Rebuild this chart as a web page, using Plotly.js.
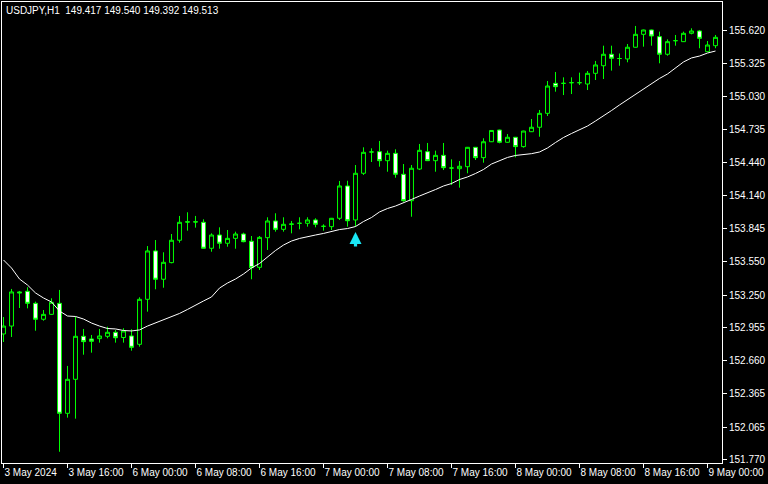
<!DOCTYPE html>
<html><head><meta charset="utf-8">
<script src="https://cdn.plot.ly/plotly-3.0.1.min.js"></script>
<style>html,body{margin:0;padding:0;background:#000;}#chart{width:768px;height:484px;}</style>
</head><body><div id="chart"></div>
<script>
const chartTitle = "USDJPY,H1\u00a0\u00a0149.417 149.540 149.392 149.513";

const openP = [152.901,152.972,153.278,153.284,153.176,153.033,153.077,153.176,152.189,152.494,
152.880,152.856,152.859,152.880,152.916,152.869,152.883,152.808,153.212,153.646,
153.392,153.541,153.742,153.908,153.908,153.903,153.670,153.789,153.715,153.759,
153.798,153.733,153.499,153.765,153.915,153.840,153.888,153.894,153.894,153.924,
153.867,153.864,153.939,154.229,153.924,154.343,154.534,154.537,154.456,154.522,
154.334,154.097,154.381,154.537,154.456,154.504,154.390,154.384,154.402,154.576,
154.483,154.626,154.731,154.621,154.666,154.582,154.716,154.756,154.881,155.150,
155.150,155.156,155.156,155.144,155.240,155.308,155.411,155.373,155.369,155.474,
155.590,155.629,155.569,155.411,155.533,155.524,155.599,155.620,155.434,155.488];

const highP = [153.053,153.305,153.287,153.320,153.191,153.116,153.221,153.296,152.614,153.056,
152.946,152.892,152.946,152.966,152.937,152.952,152.943,153.230,153.690,153.744,
153.634,153.798,153.960,153.993,153.960,153.930,153.804,153.858,153.834,153.819,
153.810,153.780,153.780,153.948,153.984,153.948,153.915,153.948,153.948,153.939,
153.885,153.942,154.274,154.276,154.417,154.576,154.567,154.633,154.546,154.558,
154.426,154.417,154.606,154.615,154.546,154.615,154.468,154.453,154.579,154.579,
154.657,154.729,154.734,154.695,154.669,154.725,154.830,154.911,155.171,155.252,
155.204,155.204,155.246,155.261,155.351,155.488,155.488,155.418,155.503,155.665,
155.632,155.632,155.614,155.545,155.584,155.614,155.644,155.629,155.530,155.584];

const lowP = [152.829,152.874,153.134,153.131,152.930,153.020,153.071,151.844,152.150,152.141,
152.715,152.733,152.823,152.862,152.823,152.823,152.751,152.787,153.101,153.302,
153.316,153.535,153.720,153.828,153.855,153.668,153.639,153.666,153.684,153.666,
153.724,153.392,153.475,153.655,153.819,153.819,153.804,153.840,153.864,153.858,
153.828,153.834,153.924,153.864,153.864,154.328,154.444,154.402,154.357,154.303,
154.088,153.953,154.372,154.453,154.357,154.372,154.238,154.214,154.343,154.462,
154.438,154.623,154.612,154.618,154.486,154.573,154.713,154.671,154.857,155.075,
155.045,155.054,155.135,155.090,155.180,155.189,155.264,155.308,155.339,155.471,
155.479,155.488,155.330,155.398,155.488,155.521,155.590,155.465,155.431,155.465];

const closeP = [152.972,153.278,153.270,153.176,153.033,153.077,153.185,152.189,152.494,152.880,
152.832,152.835,152.883,152.916,152.867,152.928,152.781,153.212,153.646,153.392,
153.544,153.742,153.903,153.905,153.906,153.670,153.789,153.715,153.759,153.798,
153.729,153.496,153.768,153.915,153.840,153.885,153.886,153.894,153.924,153.885,
153.867,153.939,154.229,153.917,154.343,154.531,154.534,154.456,154.522,154.334,
154.097,154.388,154.549,154.456,154.504,154.393,154.390,154.406,154.576,154.483,
154.626,154.727,154.621,154.666,154.582,154.722,154.756,154.881,155.126,155.120,
155.150,155.156,155.156,155.240,155.315,155.411,155.375,155.373,155.474,155.590,
155.629,155.575,155.411,155.524,155.533,155.599,155.620,155.554,155.494,155.563];

const maValues = [153.565,153.493,153.394,153.340,153.269,153.224,153.188,153.107,153.062,153.058,
153.035,152.999,152.972,152.950,152.946,152.932,152.928,152.937,152.972,152.999,
153.026,153.053,153.085,153.121,153.161,153.197,153.233,153.313,153.358,153.394,
153.439,153.493,153.533,153.592,153.650,153.699,153.735,153.758,153.776,153.789,
153.803,153.822,153.838,153.847,153.865,153.910,153.946,153.996,154.027,154.049,
154.076,154.108,154.139,154.166,154.197,154.229,154.251,154.287,154.310,154.341,
154.377,154.426,154.453,154.485,154.503,154.510,154.519,154.534,154.570,154.619,
154.664,154.700,154.736,154.767,154.812,154.857,154.906,154.956,155.005,155.054,
155.099,155.149,155.194,155.234,155.288,155.342,155.378,155.395,155.422,155.440];

const tickIndex = [0,8,16,24,32,40,48,56,64,72,80,88];
const tickLabels = ["3 May 2024","3 May 16:00","6 May 00:00","6 May 08:00","6 May 16:00","7 May 00:00",
  "7 May 08:00","7 May 16:00","8 May 00:00","8 May 08:00","8 May 16:00","9 May 00:00"];
const priceTicks = [155.620,155.325,155.030,154.735,154.440,154.140,153.845,153.550,153.250,152.955,152.660,152.365,152.065,151.770];

const signalBar = [44];
const signalPrice = [153.816];

const barIndex = openP.map((_, i) => i);
const FONT = "Liberation Sans, Arial, sans-serif";
const GREEN = "#00ff00";

const traces = [
  {
    type: "candlestick", x: barIndex, open: openP, high: highP, low: lowP, close: closeP,
    increasing: {line: {color: GREEN, width: 1}, fillcolor: "#000000"},
    decreasing: {line: {color: GREEN, width: 1}, fillcolor: "#ffffff"},
    whiskerwidth: 0, hoverinfo: "skip", showlegend: false
  },
  {
    type: "scatter", mode: "lines", x: barIndex, y: maValues,
    line: {color: "#ffffff", width: 1}, hoverinfo: "skip", showlegend: false
  }
];

const annotations = [
  {xref: "paper", yref: "paper", x: 0, y: 1, xanchor: "left", yanchor: "top", xshift: 2, yshift: -1,
   text: chartTitle, showarrow: false, font: {family: FONT, size: 10, color: "#ffffff"}}
];
signalBar.forEach((b, k) => annotations.push({
  x: b, y: signalPrice[k], xref: "x", yref: "y", text: "", showarrow: true,
  ax: 0, ay: 16, arrowhead: 2, arrowsize: 0.75, arrowwidth: 3.2, arrowcolor: "#19e6f5"
}));

const layout = {
  width: 768, height: 484,
  paper_bgcolor: "#000000", plot_bgcolor: "#000000",
  margin: {l: 2, r: 46, t: 2, b: 21, pad: 0},
  showlegend: false,
  boxgap: 0.3,
  font: {family: FONT, size: 10, color: "#ffffff"},
  xaxis: {
    type: "linear", range: [-0.1875, 89.8125], fixedrange: true,
    showgrid: false, zeroline: false, showline: true, mirror: true, linecolor: "#ffffff", linewidth: 1,
    ticks: "outside", ticklen: 4, tickcolor: "#ffffff", tickwidth: 1,
    tickmode: "array", tickvals: tickIndex, ticktext: tickLabels,
    ticklabelposition: "outside right", tickangle: 0, automargin: false,
    tickfont: {family: FONT, size: 10, color: "#ffffff"},
    rangeslider: {visible: false}
  },
  yaxis: {
    side: "right", range: [151.743, 155.880], fixedrange: true,
    showgrid: false, zeroline: false, showline: true, mirror: true, linecolor: "#ffffff", linewidth: 1,
    ticks: "outside", ticklen: 4, tickcolor: "#ffffff", tickwidth: 1,
    tickmode: "array", tickvals: priceTicks, ticktext: priceTicks.map(v => v.toFixed(3)),
    automargin: false,
    tickfont: {family: FONT, size: 10, color: "#ffffff"}
  },
  annotations: annotations
};

Plotly.newPlot("chart", traces, layout, {staticPlot: true, displayModeBar: false});
</script>
</body></html>
